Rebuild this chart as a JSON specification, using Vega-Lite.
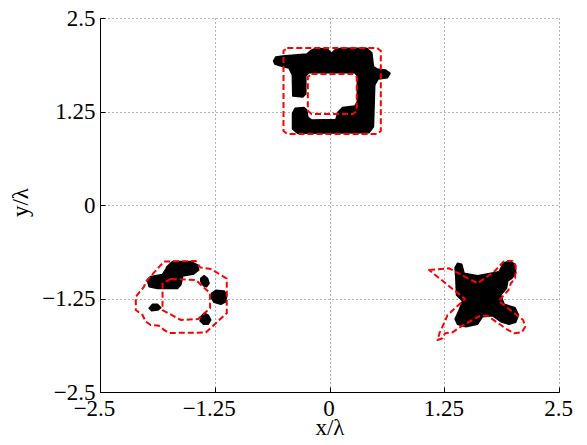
{
"$schema":"https://vega.github.io/schema/vega-lite/v6.json",
"width":459,"height":374,
"autosize":{"type":"none"},
"padding":{"left":100,"top":18,"right":28,"bottom":53},
"background":"white",
"config":{"view":{"stroke":null},"font":"Liberation Serif"},
"datasets":{
"blobs":[
{"id":"top","i":1,"x":-0.400,"y":1.457},{"id":"top","i":2,"x":-0.405,"y":1.738},{"id":"top","i":3,"x":-0.443,"y":1.832},{"id":"top","i":4,"x":-0.531,"y":1.858},{"id":"top","i":5,"x":-0.596,"y":1.885},{"id":"top","i":6,"x":-0.610,"y":1.925},{"id":"top","i":7,"x":-0.585,"y":1.979},{"id":"top","i":8,"x":-0.509,"y":1.992},{"id":"top","i":9,"x":-0.247,"y":2.019},{"id":"top","i":10,"x":-0.204,"y":2.066},{"id":"top","i":11,"x":-0.149,"y":2.095},{"id":"top","i":12,"x":-0.022,"y":2.086},{"id":"top","i":13,"x":0.022,"y":2.028},{"id":"top","i":14,"x":0.058,"y":2.072},{"id":"top","i":15,"x":0.123,"y":2.095},{"id":"top","i":16,"x":0.406,"y":2.095},{"id":"top","i":17,"x":0.461,"y":2.036},{"id":"top","i":18,"x":0.479,"y":1.849},{"id":"top","i":19,"x":0.529,"y":1.814},{"id":"top","i":20,"x":0.613,"y":1.805},{"id":"top","i":21,"x":0.660,"y":1.761},{"id":"top","i":22,"x":0.632,"y":1.702},{"id":"top","i":23,"x":0.529,"y":1.684},{"id":"top","i":24,"x":0.493,"y":1.604},{"id":"top","i":25,"x":0.479,"y":1.047},{"id":"top","i":26,"x":0.431,"y":0.967},{"id":"top","i":27,"x":-0.349,"y":0.959},{"id":"top","i":28,"x":-0.403,"y":1.016},{"id":"top","i":29,"x":-0.403,"y":1.230},{"id":"top","i":30,"x":-0.375,"y":1.293},{"id":"top","i":31,"x":-0.277,"y":1.303},{"id":"top","i":32,"x":-0.247,"y":1.270},{"id":"top","i":33,"x":-0.236,"y":1.176},{"id":"top","i":34,"x":-0.193,"y":1.136},{"id":"top","i":35,"x":0.069,"y":1.143},{"id":"top","i":36,"x":0.094,"y":1.243},{"id":"top","i":37,"x":0.142,"y":1.303},{"id":"top","i":38,"x":0.276,"y":1.324},{"id":"top","i":39,"x":0.303,"y":1.377},{"id":"top","i":40,"x":0.303,"y":1.725},{"id":"top","i":41,"x":0.276,"y":1.769},{"id":"top","i":42,"x":-0.225,"y":1.769},{"id":"top","i":43,"x":-0.258,"y":1.725},{"id":"top","i":44,"x":-0.258,"y":1.484},{"id":"top","i":45,"x":-0.291,"y":1.444},
{"id":"bl1","i":1,"x":-1.772,"y":-0.825},{"id":"bl1","i":2,"x":-1.710,"y":-0.755},{"id":"bl1","i":3,"x":-1.511,"y":-0.755},{"id":"bl1","i":4,"x":-1.438,"y":-0.802},{"id":"bl1","i":5,"x":-1.424,"y":-0.869},{"id":"bl1","i":6,"x":-1.478,"y":-0.922},{"id":"bl1","i":7,"x":-1.598,"y":-0.949},{"id":"bl1","i":8,"x":-1.620,"y":-1.070},{"id":"bl1","i":9,"x":-1.656,"y":-1.116},{"id":"bl1","i":10,"x":-1.874,"y":-1.116},{"id":"bl1","i":11,"x":-1.965,"y":-1.092},{"id":"bl1","i":12,"x":-1.985,"y":-1.003},{"id":"bl1","i":13,"x":-1.947,"y":-0.956},{"id":"bl1","i":14,"x":-1.819,"y":-0.929},{"id":"bl1","i":15,"x":-1.783,"y":-0.856},
{"id":"bl2","i":1,"x":-1.285,"y":-1.180},{"id":"bl2","i":2,"x":-1.239,"y":-1.140},{"id":"bl2","i":3,"x":-1.148,"y":-1.150},{"id":"bl2","i":4,"x":-1.119,"y":-1.203},{"id":"bl2","i":5,"x":-1.130,"y":-1.293},{"id":"bl2","i":6,"x":-1.184,"y":-1.328},{"id":"bl2","i":7,"x":-1.257,"y":-1.301},{"id":"bl2","i":8,"x":-1.285,"y":-1.247},
{"id":"bl3","i":1,"x":-1.402,"y":-0.980},{"id":"bl3","i":2,"x":-1.366,"y":-0.945},{"id":"bl3","i":3,"x":-1.329,"y":-0.980},{"id":"bl3","i":4,"x":-1.312,"y":-1.047},{"id":"bl3","i":5,"x":-1.337,"y":-1.092},{"id":"bl3","i":6,"x":-1.373,"y":-1.079},{"id":"bl3","i":7,"x":-1.402,"y":-1.025},
{"id":"bl4","i":1,"x":-1.965,"y":-1.381},{"id":"bl4","i":2,"x":-1.928,"y":-1.328},{"id":"bl4","i":3,"x":-1.874,"y":-1.328},{"id":"bl4","i":4,"x":-1.838,"y":-1.373},{"id":"bl4","i":5,"x":-1.867,"y":-1.404},{"id":"bl4","i":6,"x":-1.939,"y":-1.413},
{"id":"bl5","i":1,"x":-1.402,"y":-1.493},{"id":"bl5","i":2,"x":-1.366,"y":-1.448},{"id":"bl5","i":3,"x":-1.322,"y":-1.471},{"id":"bl5","i":4,"x":-1.293,"y":-1.537},{"id":"bl5","i":5,"x":-1.322,"y":-1.595},{"id":"bl5","i":6,"x":-1.373,"y":-1.595},{"id":"bl5","i":7,"x":-1.410,"y":-1.551},
{"id":"xs","i":1,"x":1.368,"y":-0.838},{"id":"xs","i":2,"x":1.394,"y":-0.779},{"id":"xs","i":3,"x":1.441,"y":-0.793},{"id":"xs","i":4,"x":1.466,"y":-0.913},{"id":"xs","i":5,"x":1.612,"y":-0.945},{"id":"xs","i":6,"x":1.847,"y":-0.892},{"id":"xs","i":7,"x":1.891,"y":-0.779},{"id":"xs","i":8,"x":1.964,"y":-0.749},{"id":"xs","i":9,"x":2.022,"y":-0.793},{"id":"xs","i":10,"x":2.029,"y":-0.913},{"id":"xs","i":11,"x":1.986,"y":-0.980},{"id":"xs","i":12,"x":1.942,"y":-1.016},{"id":"xs","i":13,"x":1.928,"y":-1.114},{"id":"xs","i":14,"x":1.866,"y":-1.203},{"id":"xs","i":15,"x":1.902,"y":-1.328},{"id":"xs","i":16,"x":2.022,"y":-1.373},{"id":"xs","i":17,"x":2.059,"y":-1.471},{"id":"xs","i":18,"x":2.029,"y":-1.568},{"id":"xs","i":19,"x":1.956,"y":-1.595},{"id":"xs","i":20,"x":1.866,"y":-1.560},{"id":"xs","i":21,"x":1.776,"y":-1.480},{"id":"xs","i":22,"x":1.667,"y":-1.493},{"id":"xs","i":23,"x":1.612,"y":-1.595},{"id":"xs","i":24,"x":1.485,"y":-1.627},{"id":"xs","i":25,"x":1.394,"y":-1.595},{"id":"xs","i":26,"x":1.368,"y":-1.524},{"id":"xs","i":27,"x":1.405,"y":-1.426},{"id":"xs","i":28,"x":1.449,"y":-1.283},{"id":"xs","i":29,"x":1.383,"y":-1.203},{"id":"xs","i":30,"x":1.376,"y":-0.980}
],
"outlines":[
{"id":"o1","i":1,"x":-0.46,"y":2.099},{"id":"o1","i":2,"x":0.52,"y":2.099},{"id":"o1","i":3,"x":0.559,"y":2.06},{"id":"o1","i":4,"x":0.559,"y":0.99},{"id":"o1","i":5,"x":0.52,"y":0.949},{"id":"o1","i":6,"x":-0.46,"y":0.949},{"id":"o1","i":7,"x":-0.501,"y":0.99},{"id":"o1","i":8,"x":-0.501,"y":2.06},
{"id":"o2","i":1,"x":-0.196,"y":1.751},{"id":"o2","i":2,"x":0.257,"y":1.751},{"id":"o2","i":3,"x":0.297,"y":1.71},{"id":"o2","i":4,"x":0.297,"y":1.26},{"id":"o2","i":5,"x":0.257,"y":1.217},{"id":"o2","i":6,"x":-0.196,"y":1.217},{"id":"o2","i":7,"x":-0.236,"y":1.26},{"id":"o2","i":8,"x":-0.236,"y":1.71},
{"id":"o3","i":1,"x":-1.802,"y":-0.755},{"id":"o3","i":2,"x":-1.456,"y":-0.749},{"id":"o3","i":3,"x":-1.407,"y":-0.836},{"id":"o3","i":4,"x":-1.293,"y":-0.856},{"id":"o3","i":5,"x":-1.119,"y":-0.983},{"id":"o3","i":6,"x":-1.119,"y":-1.444},{"id":"o3","i":7,"x":-1.347,"y":-1.705},{"id":"o3","i":8,"x":-1.740,"y":-1.711},{"id":"o3","i":9,"x":-1.802,"y":-1.671},{"id":"o3","i":10,"x":-1.856,"y":-1.614},{"id":"o3","i":11,"x":-1.947,"y":-1.604},{"id":"o3","i":12,"x":-2.001,"y":-1.560},{"id":"o3","i":13,"x":-2.037,"y":-1.471},{"id":"o3","i":14,"x":-2.110,"y":-1.404},{"id":"o3","i":15,"x":-2.110,"y":-1.226},{"id":"o3","i":16,"x":-2.020,"y":-1.092},{"id":"o3","i":17,"x":-2.001,"y":-1.025},
{"id":"o4","i":1,"x":-1.729,"y":-0.989},{"id":"o4","i":2,"x":-1.456,"y":-1.003},{"id":"o4","i":3,"x":-1.301,"y":-1.180},{"id":"o4","i":4,"x":-1.301,"y":-1.381},{"id":"o4","i":5,"x":-1.431,"y":-1.524},{"id":"o4","i":6,"x":-1.620,"y":-1.537},{"id":"o4","i":7,"x":-1.819,"y":-1.404},{"id":"o4","i":8,"x":-1.819,"y":-1.047},
{"id":"o5","i":1,"x":1.085,"y":-0.869},{"id":"o5","i":2,"x":1.303,"y":-0.846},{"id":"o5","i":3,"x":1.612,"y":-1.047},{"id":"o5","i":4,"x":1.793,"y":-0.892},{"id":"o5","i":5,"x":1.902,"y":-0.749},{"id":"o5","i":6,"x":1.993,"y":-0.749},{"id":"o5","i":7,"x":2.029,"y":-0.811},{"id":"o5","i":8,"x":2.022,"y":-0.980},{"id":"o5","i":9,"x":1.975,"y":-1.047},{"id":"o5","i":10,"x":1.950,"y":-1.136},{"id":"o5","i":11,"x":1.841,"y":-1.283},{"id":"o5","i":12,"x":2.109,"y":-1.537},{"id":"o5","i":13,"x":2.131,"y":-1.627},{"id":"o5","i":14,"x":2.095,"y":-1.702},{"id":"o5","i":15,"x":2.011,"y":-1.715},{"id":"o5","i":16,"x":1.928,"y":-1.658},{"id":"o5","i":17,"x":1.721,"y":-1.480},{"id":"o5","i":18,"x":1.637,"y":-1.484},{"id":"o5","i":19,"x":1.575,"y":-1.524},{"id":"o5","i":20,"x":1.430,"y":-1.627},{"id":"o5","i":21,"x":1.340,"y":-1.702},{"id":"o5","i":22,"x":1.259,"y":-1.715},{"id":"o5","i":23,"x":1.231,"y":-1.782},{"id":"o5","i":24,"x":1.176,"y":-1.805},{"id":"o5","i":25,"x":1.202,"y":-1.702},{"id":"o5","i":26,"x":1.259,"y":-1.551},{"id":"o5","i":27,"x":1.285,"y":-1.471},{"id":"o5","i":28,"x":1.477,"y":-1.257}
]
},
"encoding":{
"x":{"field":"x","type":"quantitative","scale":{"domain":[-2.5,2.5],"nice":false,"zero":false},
"axis":{"title":"x/λ","values":[-2.5,-1.25,0,1.25,2.5],"format":".3~g","grid":true,"gridColor":"#666666","gridDash":[1,3],"gridWidth":1,"ticks":true,"tickSize":-5,"tickColor":"black","tickWidth":1,"domainColor":"black","domainWidth":1,"labelFont":"Liberation Serif","labelFontSize":23,"labelColor":"black","labelPadding":10,"labelOffset":{"condition":{"test":"datum.value < 0","value":-6},"value":-1},"labelFlush":false,"labelOverlap":false,"titleFont":"Liberation Serif","titleFontSize":23,"titleFontWeight":"normal","titleColor":"black","titleX":229.5,"titleY":42,"titleBaseline":"alphabetic"}},
"y":{"field":"y","type":"quantitative","scale":{"domain":[-2.5,2.5],"nice":false,"zero":false},
"axis":{"title":"y/λ","values":[-2.5,-1.25,0,1.25,2.5],"format":".3~g","grid":true,"gridColor":"#666666","gridDash":[1,3],"gridWidth":1,"ticks":true,"tickSize":-5,"tickColor":"black","tickWidth":1,"domainColor":"black","domainWidth":1,"labelFont":"Liberation Serif","labelFontSize":23,"labelColor":"black","labelPadding":10,"labelFlush":false,"labelOverlap":false,"titleFont":"Liberation Serif","titleFontSize":23,"titleFontWeight":"normal","titleColor":"black","titleX":-73,"titleY":184,"titleAlign":"center","titleBaseline":"alphabetic","titleAngle":-90}}
},
"layer":[
{"data":{"name":"blobs"},"mark":{"type":"line","interpolate":"linear-closed","fill":"black","stroke":"black","strokeWidth":1.5,"strokeJoin":"round"},
"encoding":{"detail":{"field":"id","type":"nominal"},"order":{"field":"i","type":"quantitative"}}},
{"data":{"name":"outlines"},"mark":{"type":"line","interpolate":"linear-closed","stroke":"#ff0000","strokeWidth":2,"strokeDash":[6,3],"strokeJoin":"round"},
"encoding":{"detail":{"field":"id","type":"nominal"},"order":{"field":"i","type":"quantitative"}}}
]
}
